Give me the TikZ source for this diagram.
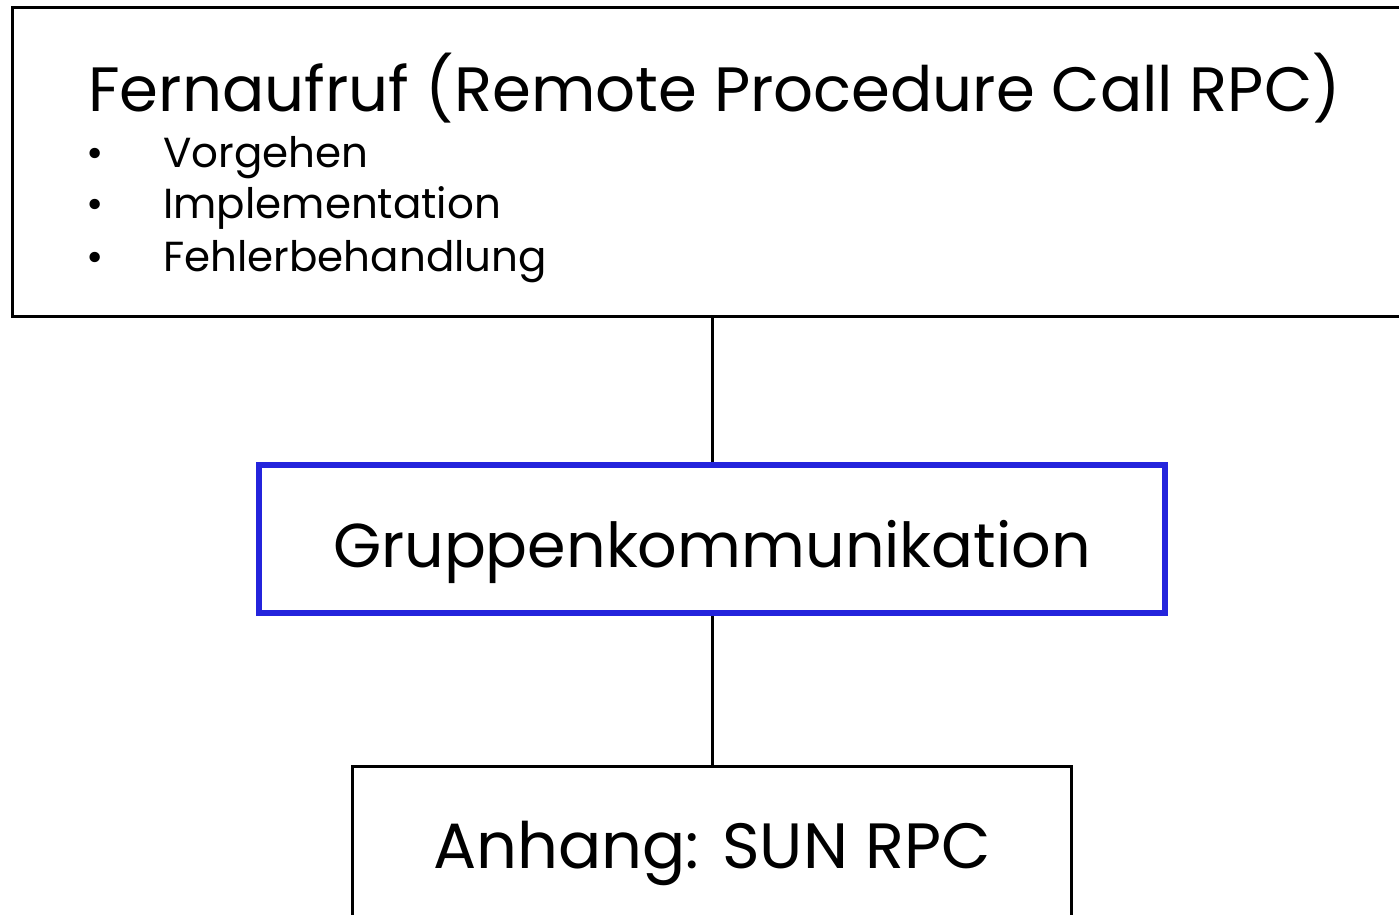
\documentclass[tikz,border=0pt]{standalone}
\usepackage{fontspec}
\setmainfont{Poppins}
\begin{document}
\begin{tikzpicture}[x=0.5pt,y=-0.5pt,
  box/.style={draw=black,line width=1.5pt,inner sep=0pt,fill=white},
  focusbox/.style={draw=focusblue,line width=3pt,inner sep=0pt,fill=white},
  link/.style={draw=black,line width=1.5pt},
  title/.style={anchor=base west,inner sep=0pt,font=\fontsize{31.3}{36}\selectfont},
  item/.style={anchor=base west,inner sep=0pt,font=\fontsize{21}{25}\selectfont},
  label/.style={anchor=base,inner sep=0pt}]
\definecolor{focusblue}{HTML}{2424DC}
\useasboundingbox (0,0) rectangle (1399,915);
\clip (0,0) rectangle (1399,915);
% three stacked boxes
\node[box,minimum width=699.5pt,minimum height=154.25pt] (rpc) at (712,161.75) {};
\node[focusbox,minimum width=453pt,minimum height=74pt] (group) at (712,539) {};
\node[box,minimum width=359.75pt,minimum height=150pt] (sun) at (712,916.5) {};
% connectors
\draw[link] (rpc.south -| group.north) -- (group.north);
\draw[link] (group.south) -- (sun.north);
% texts
\node[title] (rpctitle) at (88,112) {Fernaufruf (Remote Procedure Call RPC)};
\node[item] (b1) at (86,168) {•};
\node[item] (t1) at (163,168) {Vorgehen};
\node[item] (b2) at (86,219) {•};
\node[item] (t2) at (163,219) {Implementation};
\node[item] (b3) at (86,271) {•};
\node[item] (t3) at (163,271) {Fehlerbehandlung};
\node[label,font=\fontsize{31}{36}\selectfont] (grouptext) at (712,567) {Gruppenkommunikation};
\node[label,font=\fontsize{32}{36}\selectfont] (suntext) at (712,868) {Anhang: SUN RPC};
\end{tikzpicture}
\end{document}
